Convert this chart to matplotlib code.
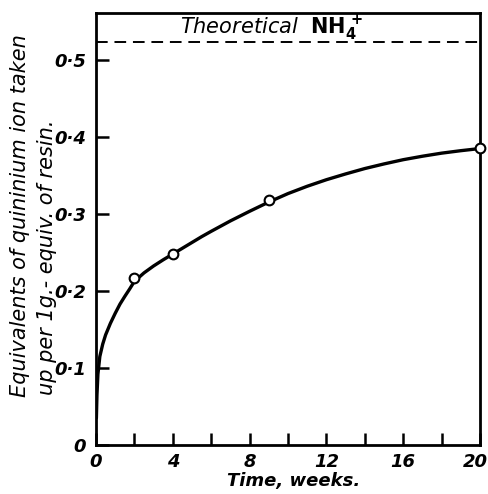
import numpy as np
import matplotlib
matplotlib.use("Agg")
import matplotlib.pyplot as plt
import matplotlib.transforms as mtransforms

# measured points (weeks, equivalents taken up)
weeks = [2.0, 4.0, 9.0, 20.0]
uptake = [0.217, 0.248, 0.318, 0.386]

# smooth curve
curve_x = [0.02, 0.05, 0.1, 0.2, 0.35, 0.5, 0.75, 1.0, 1.25, 1.5, 1.75, 2.0,
           2.5, 3.0, 3.5, 4.0, 4.5, 5.0, 5.5, 6.0, 7.0, 8.0, 9.0, 10.0, 11.0,
           12.0, 13.0, 14.0, 15.0, 16.0, 17.0, 18.0, 19.0, 20.0]
curve_y = [0.035, 0.065, 0.092, 0.115, 0.131, 0.143, 0.158, 0.171, 0.183,
           0.193, 0.2025, 0.2125, 0.2235, 0.2325, 0.2405, 0.248, 0.2555,
           0.263, 0.2705, 0.2775, 0.291, 0.3035, 0.3155, 0.3265, 0.336,
           0.3445, 0.352, 0.359, 0.365, 0.3705, 0.3750, 0.3790, 0.3822, 0.385]

theoretical = 0.523

xticks = [0, 4, 8, 12, 16, 20]
xminor = [2, 6, 10, 14, 18]
yticks = [0, 0.1, 0.2, 0.3, 0.4, 0.5]
ylabels = ["0", "0·1", "0·2", "0·3", "0·4", "0·5"]

plt.rcParams['mathtext.fontset'] = 'dejavusans'

fig = plt.figure(figsize=(4.88, 4.94), dpi=100)
ax = fig.add_axes([96/488, 1 - 445/494, 384/488, 432/494])

ax.plot(curve_x, curve_y, color='black', lw=2.4, solid_capstyle='round',
        solid_joinstyle='round', zorder=2)
ax.plot(weeks, uptake, 'o', ms=7, mfc='white', mec='black', mew=1.5, zorder=3,
        clip_on=False)
ax.axhline(theoretical, color='black', lw=1.4, ls=(0, (6, 3.5)))
ax.text(4.35, 0.534, r"$\mathit{Theoretical}\ \ \mathbf{NH}_\mathbf{4}^{\ \mathbf{+}}$",
        fontsize=15, ha='left', va='baseline')

ax.set_xlim(0, 20)
ax.set_ylim(0, 0.561)
ax.set_xticks(xticks)
ax.set_xticks(xminor, minor=True)
ax.set_yticks(yticks)
ax.set_yticklabels(ylabels)

for s in ax.spines.values():
    s.set_linewidth(2)
ax.tick_params(which='both', direction='in', length=9, width=1.8, top=False, right=False)
ax.tick_params(axis='x', pad=6)
ax.tick_params(axis='y', pad=7)
for lab in ax.get_xticklabels() + ax.get_yticklabels():
    lab.set_fontsize(13)
    lab.set_fontstyle('italic')
    lab.set_fontweight('bold')
# nudge the last x label so it stays inside the figure
last = ax.get_xticklabels()[-1]
last.set_transform(last.get_transform() +
                   mtransforms.ScaledTranslation(-5/100, 0, fig.dpi_scale_trans))

fig.text(294/488, 1 - 481/494, "Time, weeks.", fontsize=13, fontstyle='italic',
         fontweight='bold', ha='center', va='center')
fig.text(20/488, 1 - 397/494, "Equivalents of quininium ion taken", rotation=90,
         fontsize=15, fontstyle='italic', ha='center', va='bottom')
fig.text(47/488, 1 - 395/494, "up per 1g.- equiv. of resin.", rotation=90,
         fontsize=15, fontstyle='italic', ha='center', va='bottom')

fig.savefig("out.png", dpi=100)
